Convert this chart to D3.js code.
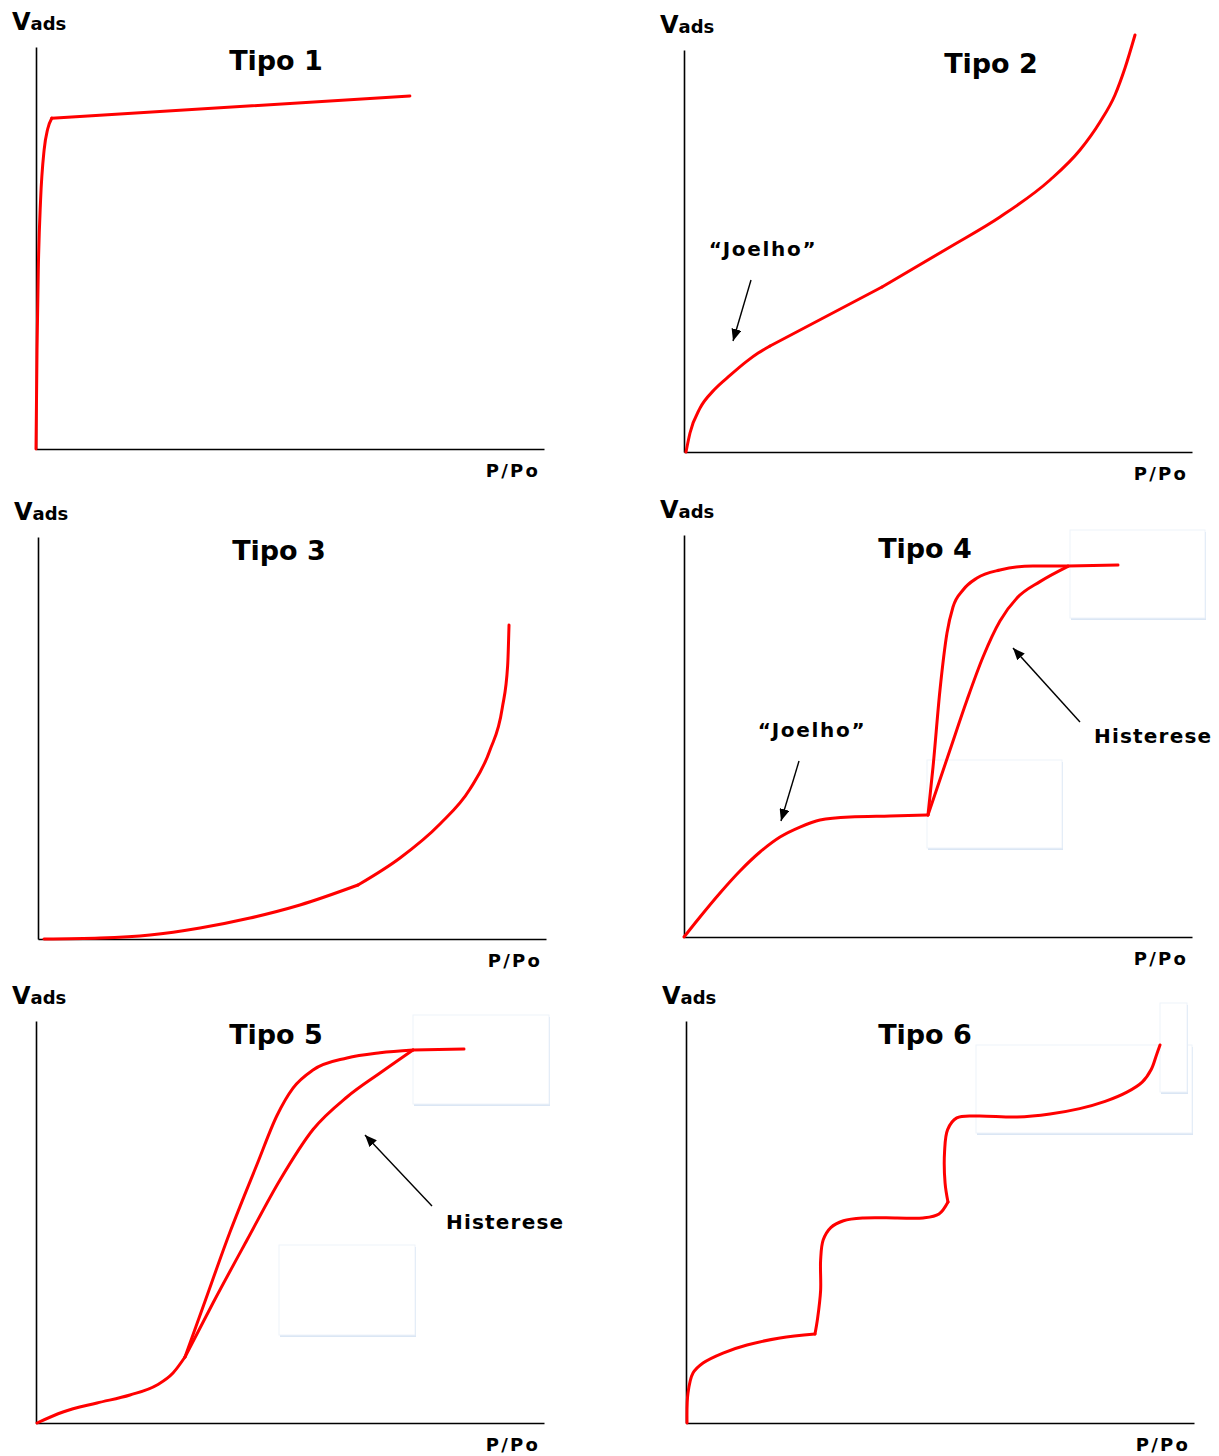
<!DOCTYPE html>
<html><head><meta charset="utf-8">
<script src="https://cdn.jsdelivr.net/npm/d3@7"></script>
<style>
body{margin:0;background:#fff}
svg{display:block}
text{font-family:"DejaVu Sans",Verdana,sans-serif;font-weight:bold;fill:#000}
</style>
</head><body>
<svg id="c" width="1219" height="1456"></svg>
<script>
// ---------- text ----------
const titles = ["Tipo 1","Tipo 2","Tipo 3","Tipo 4","Tipo 5","Tipo 6"];
const yLabelMain = "V", yLabelSub = "ads", xLabel = "P/Po";

// ---------- data (x = P/Po, y = Vads, both in % of axis) ----------
const tipo1 = [[0,0],[0.2,24.6],[0.45,44.5],[0.9,61.9],[1.6,74.4],[2.3,79.6],[3.1,82.3]];
const tipo1b = [[3.1,82.3],[73.6,87.8]];

const tipo2 = [[0.39,0],[1.18,4.73],[3.15,10.9],[5.9,15.4],[9.1,19.1],[12.4,22.6],[14.6,24.6],[16.93,26.37]];
const tipo2b = [[16.93,26.37],[38.98,41.04]];
const tipo2c = [[38.98,41.04],[52.36,51.0],[62.2,58.46],[72.05,67.66],[77.95,75.12],[81.89,82.09],[84.84,88.81],[86.81,95.52],[88.78,103.73]];

const tipo3 = [[1.18,0],[12.2,0.25],[22.05,1.0],[31.89,2.74],[41.73,5.22],[51.57,8.46],[62.99,13.43]];
const tipo3b = [[62.99,13.43],[71.26,20.15],[79.13,28.6],[85.04,37.3],[88.98,47.0],[91.4,57.5],[92.45,68.0],[92.72,78.11]];

const tipo4Base = [[0,0],[3.15,4.98],[7.09,10.95],[11.02,16.42],[14.96,21.14],[18.9,24.88],[22.83,27.36],[26.77,29.1],[32.68,29.85],[40.55,30.1],[48.03,30.35]];
const tipo4Des = [[48.03,30.35],[49.02,42.29],[50.39,61.44],[51.77,75.62],[52.95,82.09],[54.92,86.32],[57.68,89.3],[62.2,91.29],[68.7,92.29],[75.59,92.29]];
const tipo4Ads = [[48.03,30.35],[52.36,46.52],[55.71,58.96],[58.86,69.65],[62.2,78.6],[65.55,84.33],[70.08,88.4],[75.59,92.2]];
const tipo4Top = [[75.59,92.29],[85.43,92.54]];

const tipo5Base = [[0.2,0],[5.31,2.74],[12.01,4.98],[18.5,6.97],[23.82,9.45],[26.97,12.44],[29.33,16.42]];
const tipo5Des = [[29.33,16.42],[32.87,28.86],[38.19,47.5],[43.5,64.3],[47.44,76.5],[50.59,83.3],[54.53,87.81],[61.22,90.8],[67.72,92.1],[74.21,92.79]];
const tipo5Ads = [[29.33,16.42],[34.84,29.85],[41.54,45.52],[48.03,60.45],[54.53,73.0],[61.22,81.09],[67.72,87.06],[74.21,92.79]];
const tipo5Top = [[74.21,92.79],[84.25,93.03]];

const tipo6a = [[0.2,0],[0.39,7.46],[1.38,12.44],[3.35,14.93],[7.28,17.41],[12.01,19.4],[18.5,21.14],[25.39,22.14]];
const tipo6b = [[25.39,22.14],[25.9,26.0],[26.5,33.0],[26.5,40.5],[27.0,45.5],[28.5,48.6],[31.0,50.3],[35.0,51.0],[41.54,51.0],[46.65,51.0],[49.8,52.0],[51.57,54.98]];
const tipo6c = [[51.57,54.98],[51.0,59.7],[50.9,67.5],[51.5,73.0],[53.3,75.9],[57.28,76.37],[65.16,76.12],[71.65,76.87],[77.5,78.2],[82.5,80.0],[86.8,82.3],[89.8,84.8],[91.6,88.0],[92.6,91.5],[93.31,94.03]];

const curves = [
  [tipo1, tipo1b],
  [tipo2, tipo2b, tipo2c],
  [tipo3, tipo3b],
  [tipo4Base, tipo4Des, tipo4Ads, tipo4Top],
  [tipo5Base, tipo5Des, tipo5Ads, tipo5Top],
  [tipo6a, tipo6b, tipo6c]
];

// annotations
const annoText = [
  [],
  [{t:"\u201CJoelho\u201D", at:[15.55,50.5], anchor:"middle"}],
  [],
  [{t:"\u201CJoelho\u201D", at:[25.2,51.49], anchor:"middle"},{t:"Histerese", at:[80.71,50.0], anchor:"start"}],
  [{t:"Histerese", at:[80.71,50.0], anchor:"start"}],
  []
];
const annoArrows = [
  [],
  [[[13.19,42.79],[9.65,27.61]]],
  [],
  [[[22.64,43.78],[19.09,28.86]],[[77.95,53.48],[64.76,71.89]]],
  [[[77.95,53.98],[64.76,71.64]]],
  []
];

// ---------- layout ----------
const W = 508, H = 402;
const panels = [
  {x0:36, y0:449, tx:240, curve:"mono"},
  {x0:684, y0:452, tx:307, curve:"mono"},
  {x0:38, y0:939, tx:241, curve:"mono"},
  {x0:684, y0:937, tx:241, curve:"mono"},
  {x0:36, y0:1423, tx:240, curve:"mono"},
  {x0:686, y0:1423, tx:239, curve:"cr"}
];
// faint boxes (pixel offsets from panel origin)
const boxes = [
  [],[],[],
  [[386,-407,135,88],[243,-177,135,88]],
  [[377,-408,136,89],[243,-178,136,90]],
  [[290,-378,216,88],[474,-420,27,89]]
];

const svg = d3.select("#c");
const defs = svg.append("defs");
defs.append("marker").attr("id","arr").attr("markerUnits","userSpaceOnUse")
  .attr("viewBox","0 0 12 10").attr("refX",12).attr("refY",5)
  .attr("markerWidth",12).attr("markerHeight",10).attr("orient","auto")
  .append("path").attr("d","M0,0 L12,5 L0,10 Z").attr("fill","#000");

panels.forEach((p,i)=>{
  const g = svg.append("g");
  const x = d3.scaleLinear().domain([0,100]).range([p.x0, p.x0+W]);
  const y = d3.scaleLinear().domain([0,100]).range([p.y0, p.y0-H]);

  // boxes
  boxes[i].forEach(b=>{
    g.append("rect").attr("x",p.x0+b[0]+1).attr("y",p.y0+b[1]+2).attr("width",b[2]).attr("height",b[3])
      .attr("fill","#dbe6f4");
    g.append("rect").attr("x",p.x0+b[0]).attr("y",p.y0+b[1]).attr("width",b[2]).attr("height",b[3])
      .attr("fill","#fff").attr("stroke","#eef3fa").attr("stroke-width",1);
  });

  // axes
  const ax = g.append("g").attr("transform",`translate(0,${p.y0})`)
    .call(d3.axisBottom(x).ticks(0).tickSizeOuter(0));
  const ay = g.append("g").attr("transform",`translate(${p.x0},0)`)
    .call(d3.axisLeft(y).ticks(0).tickSizeOuter(0));
  [ax,ay].forEach(a=>a.select(".domain").attr("stroke","#000").attr("stroke-width",1.6));

  // labels
  const vl = g.append("text").attr("x",p.x0-24).attr("y",p.y0-419);
  vl.append("tspan").attr("font-size",24).text(yLabelMain);
  vl.append("tspan").attr("font-size",18).text(yLabelSub);
  g.append("text").attr("x",p.x0+504).attr("y",p.y0+28).attr("text-anchor","end")
    .attr("font-size",18).attr("letter-spacing",2.2).text(xLabel);
  g.append("text").attr("x",p.x0+p.tx).attr("y",p.y0-379).attr("text-anchor","middle")
    .attr("font-size",27).text(titles[i]);

  // curves
  const cf = p.curve==="mono" ? d3.curveMonotoneX : d3.curveCatmullRom.alpha(0.5);
  const line = d3.line().x(d=>x(d[0])).y(d=>y(d[1])).curve(cf);
  curves[i].forEach(c=>{
    g.append("path").attr("d",line(c)).attr("fill","none").attr("stroke","#ff0000")
      .attr("stroke-width",3).attr("stroke-linejoin","round").attr("stroke-linecap","round");
  });

  // annotations
  annoArrows[i].forEach(a=>{
    g.append("line").attr("x1",x(a[0][0])).attr("y1",y(a[0][1])).attr("x2",x(a[1][0])).attr("y2",y(a[1][1]))
      .attr("stroke","#000").attr("stroke-width",1.4).attr("marker-end","url(#arr)");
  });
  annoText[i].forEach(t=>{
    g.append("text").attr("x",x(t.at[0])).attr("y",y(t.at[1])).attr("dy","0.36em")
      .attr("text-anchor",t.anchor).attr("font-size",20).attr("letter-spacing",t.t.length>8?1.2:1.7).text(t.t);
  });
});
</script>
</body></html>
